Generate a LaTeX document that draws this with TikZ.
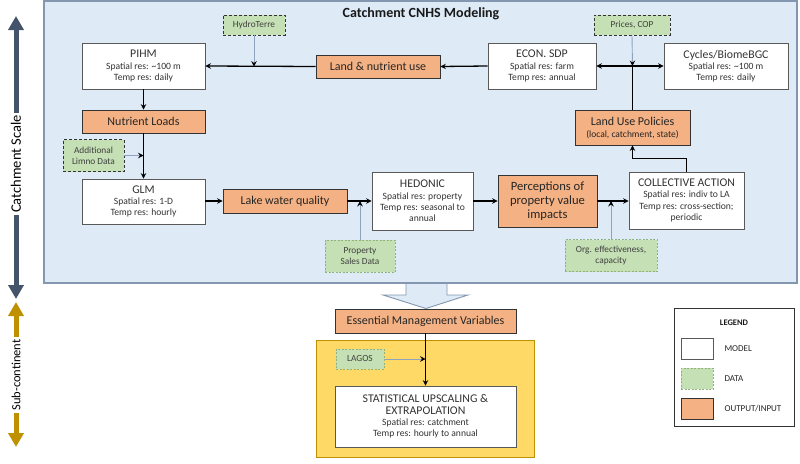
\documentclass[tikz,border=0pt]{standalone}
\usepackage{fontspec}
\setmainfont{Carlito}
\usetikzlibrary{arrows.meta,calc}
\definecolor{bgblue}{HTML}{DEEBF7}
\definecolor{bluebord}{HTML}{8497B0}
\definecolor{orangef}{HTML}{F4B183}
\definecolor{greenf}{HTML}{C5E0B4}
\definecolor{greenb}{HTML}{8FB37A}
\definecolor{modelb}{HTML}{595959}
\definecolor{yellowf}{HTML}{FFD966}
\definecolor{yellowb}{HTML}{BF9000}
\definecolor{axisblue}{HTML}{44546A}
\definecolor{axisgold}{HTML}{BF9000}
\definecolor{dataline}{HTML}{8FA3BF}
\newcommand\mtitle{\fontsize{11.8}{13}\selectfont}
\tikzset{
 modelbox/.style={draw=modelb, fill=white, line width=0.9pt, align=center, inner sep=1pt, text=black!80, font=\fontsize{9.6}{11.2}\selectfont},
 outbox/.style={draw=black!80, fill=orangef, line width=0.9pt, align=center, inner sep=1pt, text=black!85, font=\fontsize{12}{13.5}\selectfont},
 databox/.style={draw=black!80, dash pattern=on 3pt off 2pt, fill=greenf, line width=0.9pt, align=center, inner sep=1pt, text=black!75, font=\fontsize{9.3}{11}\selectfont},
 databoxb/.style={draw=greenb, dash pattern=on 2pt off 1.5pt, fill=greenf, line width=0.8pt, align=center, inner sep=1pt, text=black!75, font=\fontsize{9.3}{11}\selectfont},
 flow/.style={line width=1.3pt, -{Stealth[length=5.5pt,width=5.5pt,inset=2pt]}},
 dflow/.style={draw=dataline, line width=0.9pt, -{Stealth[length=5.5pt,width=5.5pt,inset=2pt,black]}},
 legtext/.style={anchor=west, font=\fontsize{9}{10}\selectfont, text=black!85},
}
\begin{document}
\begin{tikzpicture}[x=1pt,y=-1pt]
\useasboundingbox (0,0) rectangle (800,463);
\fill[white] (0,0) rectangle (800,463);

% axis arrows
\draw[axisblue, line width=5pt, {Triangle[width=15pt,length=14pt]}-{Triangle[width=15pt,length=14pt]}] (16,299) -- (16,16);
\node[fill=white, rotate=90, inner sep=2pt, font=\fontsize{14.5}{16}\selectfont] (catchlbl) at (16,164) {Catchment Scale};
\draw[axisgold, line width=5pt, {Triangle[width=15pt,length=14pt]}-{Triangle[width=15pt,length=14pt]}] (16,302) -- (16,447);
\node[fill=white, rotate=90, inner sep=2pt, font=\fontsize{12.5}{14}\selectfont] (sublbl) at (16,375) {Sub-continent};

% catchment region
\node[draw=bluebord, fill=bgblue, line width=1.5pt, minimum width=753pt, minimum height=282pt, inner sep=0pt] (catch) at (420.5,142) {};
\node[font=\bfseries\fontsize{14}{16}\selectfont, text=black!90] (title) at (421,14) {Catchment CNHS Modeling};

% nodes
\node[modelbox, minimum width=123pt, minimum height=46pt] (pihm) at (143.5,66) {{\mtitle PIHM}\\Spatial res: \textasciitilde100 m\\Temp res: daily};
\node[outbox, minimum width=124pt, minimum height=23pt] (land) at (378,66.5) {Land \& nutrient use};
\node[modelbox, minimum width=108pt, minimum height=46pt] (econ) at (542,66) {{\mtitle ECON. SDP}\\Spatial res: farm\\Temp res: annual};
\node[modelbox, minimum width=124pt, minimum height=46pt] (cycles) at (726,66) {{\mtitle Cycles/BiomeBGC}\\Spatial res: \textasciitilde100 m\\Temp res: daily};
\node[databox, minimum width=62pt, minimum height=20pt] (hydro) at (254,25) {HydroTerre};
\node[databox, minimum width=76pt, minimum height=20pt] (prices) at (632,25) {Prices, COP};
\node[outbox, minimum width=115pt, minimum height=35pt] (lup) at (632.5,127.5) {Land Use Policies\\[-1.5pt]{\fontsize{9.5}{10.5}\selectfont (local, catchment, state)}};
\node[outbox, minimum width=123pt, minimum height=23pt] (nutr) at (143.5,121.5) {Nutrient Loads};
\node[databox, minimum width=61pt, minimum height=32pt] (limno) at (93.5,155.5) {Additional\\Limno Data};
\node[modelbox, minimum width=123pt, minimum height=45pt] (glm) at (143.5,201.5) {{\mtitle GLM}\\Spatial res: 1-D\\Temp res: hourly};
\node[outbox, minimum width=124pt, minimum height=24pt] (lake) at (285,201) {Lake water quality};
\node[modelbox, minimum width=101pt, minimum height=58pt] (hed) at (422.5,201) {{\mtitle HEDONIC}\\Spatial res: property\\Temp res: seasonal to\\annual};
\node[databoxb, minimum width=70pt, minimum height=32pt] (sales) at (360,256) {Property\\Sales Data};
\node[outbox, minimum width=99pt, minimum height=52pt, font=\fontsize{12.6}{14}\selectfont] (perc) at (547.5,201) {Perceptions of\\property value\\impacts};
\node[modelbox, minimum width=115pt, minimum height=57pt] (coll) at (686.5,200.5) {{\mtitle COLLECTIVE ACTION}\\Spatial res: indiv to LA\\Temp res: cross-section;\\periodic};
\node[databoxb, minimum width=92pt, minimum height=32pt] (org) at (611,255.5) {Org. effectiveness,\\capacity};

% connectors in catchment
\draw[flow] (land.west) -- (pihm.east);
\draw[flow] (econ.west) -- (land.east);
\draw[dflow] (hydro.south) -- (hydro.south |- land.west);
\coordinate (jx) at (lup.north |- econ.east);
\draw[line width=1.3pt] (lup.north) -- (jx);
\draw[flow] (jx) -- (econ.east);
\draw[flow] (jx) -- (cycles.west);
\draw[dflow] (prices.south) -- (jx);
\draw[flow] (pihm.south) -- (nutr.north);
\draw[flow] (nutr.south) -- (glm.north);
\draw[dflow] (limno.east) -- (limno.east -| nutr.south);
\draw[flow] (glm.east |- lake.west) -- (lake.west);
\draw[flow] (lake.east) -- (hed.west |- lake.east);
\draw[dflow] (sales.north) -- (sales.north |- lake.east);
\draw[flow] (hed.east |- perc.west) -- (perc.west);
\draw[flow] (perc.east) -- (coll.west |- perc.east);
\draw[dflow] (org.north) -- (org.north |- perc.east);
\draw[flow] (coll.north) -- ++(0,-13) -| (lup.south);

% block arrow
\draw[bluebord, fill=bgblue, line width=0.9pt] (406,284) -- (406,295) -- (383,295) -- (426,308.5) -- (468,295) -- (447,295) -- (447,284);

% lower part
\node[draw=yellowb, fill=yellowf, line width=0.9pt, minimum width=218pt, minimum height=117pt, inner sep=0pt] (sub) at (425,398.5) {};
\node[outbox, minimum width=181pt, minimum height=24pt] (emv) at (425.5,321) {Essential Management Variables};
\node[databoxb, minimum width=48pt, minimum height=20pt] (lagos) at (360,359) {LAGOS};
\node[modelbox, minimum width=181pt, minimum height=61pt] (stat) at (425.5,416.5) {{\mtitle STATISTICAL UPSCALING \&}\\{\mtitle EXTRAPOLATION}\\Spatial res: catchment\\Temp res: hourly to annual};
\draw[flow] (emv.south) -- (stat.north);
\draw[dflow] (lagos.east) -- (lagos.east -| emv.south);

% legend
\node[draw=black!80, fill=white, line width=0.9pt, minimum width=120pt, minimum height=118pt, inner sep=0pt] (legend) at (734,367) {};
\node[font=\bfseries\fontsize{8.5}{10}\selectfont, text=black!90] (legtitle) at (734,323) {LEGEND};
\node[modelbox, minimum width=32pt, minimum height=21pt] (lmodel) at (697,348.5) {};
\node[databoxb, minimum width=32pt, minimum height=21pt] (ldata) at (697,378.5) {};
\node[outbox, minimum width=32pt, minimum height=21pt] (lout) at (697,408.5) {};
\node[legtext] (tmodel) at (721,348.5) {MODEL};
\node[legtext] (tdata) at (721,378.5) {DATA};
\node[legtext] (tout) at (721,408.5) {OUTPUT/INPUT};
\end{tikzpicture}
\end{document}
